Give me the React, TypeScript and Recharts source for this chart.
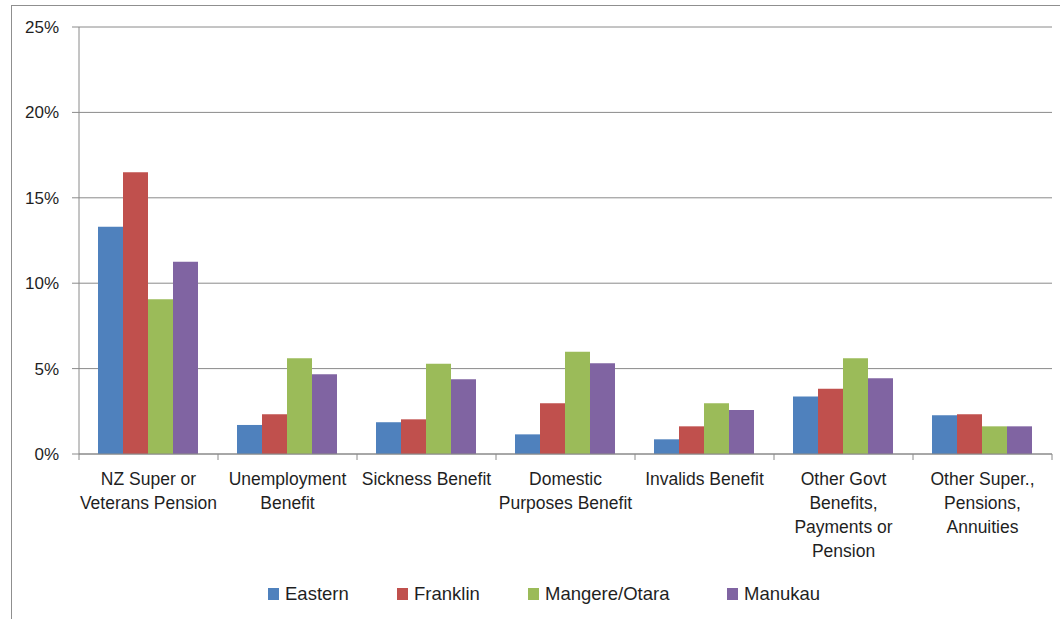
import React from 'react';
import { BarChart, Bar, XAxis, YAxis, CartesianGrid, Legend } from 'recharts';

const categories = [
  'NZ Super or\nVeterans Pension',
  'Unemployment\nBenefit',
  'Sickness Benefit',
  'Domestic\nPurposes Benefit',
  'Invalids Benefit',
  'Other Govt\nBenefits,\nPayments or\nPension',
  'Other Super.,\nPensions,\nAnnuities',
];
const eastern = [13.3, 1.7, 1.86, 1.15, 0.86, 3.36, 2.27];
const franklin = [16.5, 2.32, 2.03, 2.97, 1.62, 3.82, 2.33];
const mangereOtara = [9.06, 5.6, 5.29, 5.99, 2.97, 5.6, 1.62];
const manukau = [11.26, 4.67, 4.37, 5.31, 2.58, 4.43, 1.62];
const yTicks = [0, 5, 10, 15, 20, 25];

const seriesNames = ['Eastern', 'Franklin', 'Mangere/Otara', 'Manukau'];
const seriesKeys = ['eastern', 'franklin', 'mangereOtara', 'manukau'];
const colors = ['#4F81BD', '#C0504D', '#9BBB59', '#8064A2'];
const legendLefts = [268, 397, 528, 727];

const data = categories.map((c, i) => ({
  name: c,
  eastern: eastern[i],
  franklin: franklin[i],
  mangereOtara: mangereOtara[i],
  manukau: manukau[i],
}));

const FONT = "'Liberation Sans', Arial, sans-serif";
const TEXT = '#1f1f1f';
const GRID = '#8a8a8a';

const XTick = (props: any) => {
  const { x, payload, index, visibleTicksCount } = props;
  const lines = String(payload.value).split('\n');
  const half = payload.offset || 69.5;
  const axisY = 454;
  return (
    <g>
      <line x1={x - half} x2={x - half} y1={axisY} y2={axisY + 6} stroke={GRID} strokeWidth={1} />
      {index === visibleTicksCount - 1 && (
        <line x1={x + half} x2={x + half} y1={axisY} y2={axisY + 6} stroke={GRID} strokeWidth={1} />
      )}
      <text x={x} y={axisY + 31} textAnchor="middle" fill={TEXT} fontSize={17.5} fontFamily={FONT}>
        {lines.map((l, i) => (
          <tspan key={i} x={x} dy={i === 0 ? 0 : 24}>
            {l}
          </tspan>
        ))}
      </text>
    </g>
  );
};

const LegendContent = () => (
  <div
    style={{
      position: 'relative',
      height: 40,
      width: 1060,
      fontFamily: FONT,
      fontSize: 18.5,
      color: TEXT,
    }}
  >
    {seriesNames.map((n, i) => (
      <div
        key={n}
        style={{
          position: 'absolute',
          left: legendLefts[i],
          top: 0,
          height: 30,
          display: 'flex',
          alignItems: 'center',
          whiteSpace: 'nowrap',
        }}
      >
        <div style={{ width: 11, height: 12, background: colors[i], marginRight: 6 }} />
        <span>{n}</span>
      </div>
    ))}
  </div>
);

export default function App() {
  return (
    <div style={{ position: 'absolute', left: 0, top: 0, width: 1060, height: 619, overflow: 'hidden', background: '#fff' }}>
      <div
        style={{
          position: 'absolute',
          left: 11,
          top: 5,
          width: 1200,
          height: 800,
          borderLeft: '1.5px solid #8f8f8f',
          borderTop: '1.5px solid #8f8f8f',
        }}
      />
      <div style={{ position: 'absolute', left: 0, top: 0 }}>
        <BarChart
          width={1060}
          height={619}
          data={data}
          margin={{ top: 27, right: 8, left: 0, bottom: 0 }}
          barCategoryGap={19}
          barGap={0}
        >
          <CartesianGrid vertical={false} stroke={GRID} strokeWidth={1} />
          <XAxis
            dataKey="name"
            height={125}
            interval={0}
            tickLine={false}
            axisLine={{ stroke: GRID, strokeWidth: 1 }}
            tick={<XTick />}
          />
          <YAxis
            width={79}
            domain={[0, 25]}
            ticks={yTicks}
            tickFormatter={(v: number) => `${v}%`}
            tickSize={7}
            tickMargin={13}
            axisLine={{ stroke: GRID, strokeWidth: 1 }}
            tickLine={{ stroke: GRID, strokeWidth: 1 }}
            tick={{ fill: TEXT, fontSize: 17, fontFamily: FONT }}
            interval={0}
          />
          <Legend
            verticalAlign="bottom"
            content={<LegendContent />}
            wrapperStyle={{ left: 0, width: 1060 }}
          />
          {seriesKeys.map((k, i) => (
            <Bar key={k} dataKey={k} name={seriesNames[i]} fill={colors[i]} isAnimationActive={false} />
          ))}
        </BarChart>
      </div>
    </div>
  );
}
